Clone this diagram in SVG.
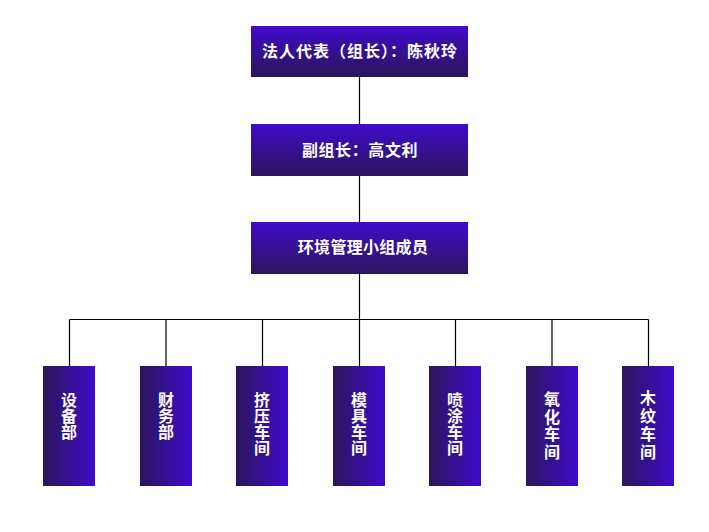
<svg xmlns="http://www.w3.org/2000/svg" width="709" height="532" viewBox="0 0 709 532">
<defs>
<linearGradient id="gv" x1="0" y1="0" x2="0" y2="1">
<stop offset="0" stop-color="#3f0bcc"/>
<stop offset="1" stop-color="#2a1659"/>
</linearGradient>
<linearGradient id="gh" x1="0" y1="0" x2="1" y2="0">
<stop offset="0" stop-color="#2a1659"/>
<stop offset="1" stop-color="#3f0bcc"/>
</linearGradient>
</defs>
<style>
.top{fill:url(#gv)}
.bot{fill:url(#gh)}
text{font-family:"Noto Sans CJK SC","Noto Sans",sans-serif;font-weight:bold;font-size:16px;fill:#ffffff}
.c{text-anchor:middle}
.v{writing-mode:tb;glyph-orientation-vertical:0}
.ln{stroke:#000;stroke-width:1.2;fill:none}
</style>
<rect width="709" height="532" fill="#ffffff"/>
<g id="connectors">
<path class="ln" d="M359.5 77V124M359.5 176V222M359.5 274V319.5M69.5 319.5H648.5M69.5 319.5V366M166 319.5V366M262.5 319.5V366M359.5 319.5V366M455.5 319.5V366M552 319.5V366M648.5 319.5V366"/>
</g>
<g id="n1"><rect class="top" x="251" y="26" width="217" height="51"/><text class="c" x="360" y="57" style="letter-spacing:1px">法人代表（组长）：陈秋玲</text></g>
<g id="n2"><rect class="top" x="251" y="124" width="217" height="52"/><text class="c" x="360" y="156" style="letter-spacing:0.6px">副组长：高文利</text></g>
<g id="n3"><rect class="top" x="251" y="222" width="217" height="52"/><text class="c" x="363" y="253" style="letter-spacing:0.3px">环境管理小组成员</text></g>
<g id="b1"><rect class="bot" x="43" y="366" width="52" height="120"/><text class="v" x="69" y="392">设备部</text></g>
<g id="b2"><rect class="bot" x="140" y="366" width="52" height="120"/><text class="v" x="166" y="392">财务部</text></g>
<g id="b3"><rect class="bot" x="236" y="366" width="52" height="120"/><text class="v" x="262" y="392">挤压车间</text></g>
<g id="b4"><rect class="bot" x="333" y="366" width="52" height="120"/><text class="v" x="359" y="392">模具车间</text></g>
<g id="b5"><rect class="bot" x="429" y="366" width="52" height="120"/><text class="v" x="455" y="392">喷涂车间</text></g>
<g id="b6"><rect class="bot" x="526" y="366" width="52" height="120"/><text class="v" x="552" y="391" style="letter-spacing:1.5px">氧化车间</text></g>
<g id="b7"><rect class="bot" x="622" y="366" width="52" height="120"/><text class="v" x="648" y="390" style="letter-spacing:2px">木纹车间</text></g>
</svg>
